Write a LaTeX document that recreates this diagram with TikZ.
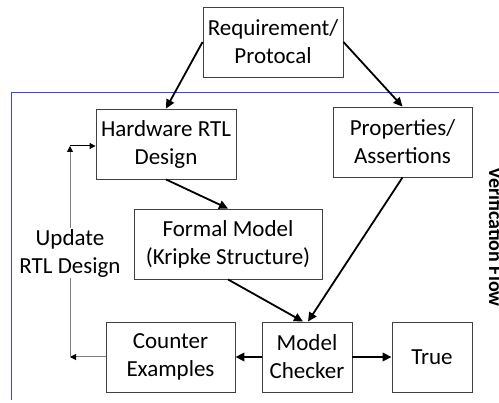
\documentclass[tikz,border=0pt]{standalone}
\usepackage{fontspec}
\setmainfont{Carlito}
\usetikzlibrary{arrows.meta}
\begin{document}
\begin{tikzpicture}[x=1pt,y=-1pt,
  box/.style={draw=black!75,line width=0.9pt,fill=white,align=center,inner sep=0pt,
    minimum height=70pt,font=\fontsize{23}{28}\selectfont},
  flow/.style={draw=black,line width=1.8pt,-{Triangle[length=9pt,width=8.5pt]}},
  fb/.style={draw=black!50,line width=1pt,-{Triangle[length=6pt,width=6pt,color=black]}}]
\useasboundingbox (0,0) rectangle (499,403);
\clip (0,0) rectangle (499,403);
% frame
\draw[draw=blue!75,line width=1pt] (11,400) -- (11,93) -- (499,93);
\node[rotate=-90,anchor=base,font=\fontsize{20}{24}\selectfont\bfseries] (vf) at (489,237) {Verification Flow};
% boxes
\node[box,minimum width=140pt] (req) at (273,42) {Requirement/\\Protocal};
\node[box,minimum width=140pt] (hw) at (166,144) {Hardware RTL\\Design};
\node[box,minimum width=139pt] (props) at (402.5,142) {Properties/\\Assertions};
\node[box,minimum width=188pt] (formal) at (228,244) {Formal Model\\(Kripke Structure)};
\node[box,minimum width=129pt] (counter) at (170.5,357) {Counter\\Examples};
\node[box,minimum width=90pt] (checker) at (307,357) {Model\\Checker};
\node[box,minimum width=80pt] (true) at (432,357) {True};
% flow arrows
\draw[flow] (req.west) -- (hw.north);
\draw[flow] (req.east) -- (props.north);
\draw[flow] (hw.south) -- (formal.north);
\draw[flow] (formal.south) -- ([xshift=-4pt]checker.north);
\draw[flow] (props.south) -- ([xshift=1pt]checker.north);
\draw[flow] (checker.west) -- (counter.east);
\draw[flow] (checker.east) -- (true.west);
% feedback
\coordinate (cb) at (70,357);
\coordinate (ct) at (70,146);
\draw[fb] (counter.west) -- (cb);
\draw[fb] (cb) -- (ct);
\draw[fb,draw=black] (ct) -- (hw.west |- ct);
\node[fill=white,align=center,inner sep=1pt,font=\fontsize{23}{28}\selectfont] (upd) at (70,253) {Update\\RTL Design};
\end{tikzpicture}
\end{document}
